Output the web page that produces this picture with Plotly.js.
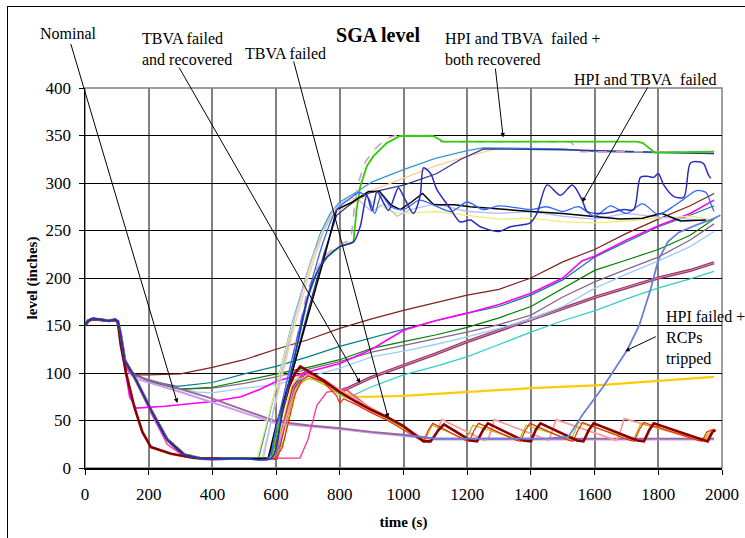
<!DOCTYPE html>
<html><head><meta charset="utf-8">
<script src="https://cdn.plot.ly/plotly-3.0.1.min.js"></script>
<style>
html,body{margin:0;padding:0;background:#fff;overflow:hidden;width:745px;height:538px;}
#chart{position:absolute;left:0;top:0;width:745px;height:538px;}
#frame{position:absolute;left:7px;top:6px;width:800px;height:600px;border:1.5px solid #000;pointer-events:none;}
</style></head><body>
<div id="chart"></div>
<div id="frame"></div>
<script>
// ---- shared segments (time s, level inches) ----
const startT = [0,10,25,50,75,95,103];
const startY = [150,155,157,156,155,156,154];
const lowT = [112,125,155,207,258,312,364,400,450,500];
const lowY = [140,113,96,61,30,14,10,9.5,10,10];
const famT = [112,122,136,160,200,300,400,500,600,700,800,900,1000,1100,1200,1300,1400,1500,1600,1700,1800,1900,1975];

// ---- rising family ----
const brownY = [136,116,104,98,98,99,106,114,125,135,147,157,166,174,182,188,200,217,230,247,262,276,289];
const tealT = [112,122,136,160,200,290,400,500,600,700,800,900,1000,1100,1200,1300,1400,1500,1600,1700,1800,1900,1975];
const tealY = [136,116,104,98,92,86,90,99,107,117,128,137,146,155,163,170,182,198,222,238,254,266,276];
const magentaT = [112,122,140,160,250,400,490,550,600,700,800,900,950,1000,1100,1200,1300,1400,1500,1560,1600,1700,1800,1900,1975];
const magentaY = [136,112,75,63,65,70,75,83,91,101,110,125,135,145,155,163,172,184,200,218,223,240,255,268,282];
const greenY = [136,116,104,98,92,83,85,92,99,106,114,126,133,140,148,158,170,189,208,219,230,245,262];
const mauveY = [136,116,104,98,91,83,84,89,96,104,112,122,129,136,143,151,161,180,196,209,222,240,257];
const lightBlueT = [112,122,136,160,250,350,400,500,600,700,800,900,1000,1100,1200,1300,1400,1500,1600,1700,1800,1900,1975];
const lightBlueY = [136,116,104,97,87,80,79,84,88,96,105,117,123,130,138,147,157,170,189,204,218,233,249];

// ---- declining pair ----
const purpleT = [112,122,140,160,300,400,500,600,700,800,900,1000,1100,1500,1975];
const purpleY = [136,112,102,97,83,73,61,49,45,42,38,35,31,31,31];
const lavenderY = [138,114,100,94,80,69,58,47,44,41,37,34,30,30,30];

// ---- TBVA failed bundle ----
const darkRedT = [112,129,155,180,207,270,343,400,500,580,600,620,640,660,676,700,750,800,850,900,952,1000,1063,1085,1110,1127,1210,1231,1250,1265,1375,1400,1415,1430,1545,1565,1582,1597,1734,1755,1772,1786,1941,1955,1970,1980];
const darkRedY = [130,100,64,38,22,15,10.5,10,10,10,30,60,85,100,107,102,92,80,70,61,53,44,28,28,40,46,29,28,40,47,29,28,40,47,29,28,40,47,29,28,40,47,29,28,38,40];
const redT = [600,620,640,660,680,700,750,790,800,812,850,900,950,1000,1050,1062,1078,1092,1195,1207,1222,1236,1355,1367,1383,1397,1520,1532,1548,1562,1712,1724,1740,1754,1925,1937,1952,1975];
const redY = [10,22,50,78,92,97,90,76,68,73,67,58,50,40,30,28,40,47,29,28,40,47,29,28,40,47,29,28,40,48,29,28,40,48,29,28,38,41];
const ygT = [600,625,650,670,700,720,760,800,850,900,1000,1050,1068,1090,1196,1218,1363,1385,1527,1549,1723,1745,1940,1965,1975];
const ygY = [10,30,70,88,94,93,86,77,70,60,42,31,30,45,30,45,30,45,30,48,30,47,29,40,40];
const salmonT = [590,620,660,700,750,800,900,1000,1080,1098,1120,1255,1268,1285,1455,1463,1479,1668,1678,1693,1945,1960,1980];
const salmonY = [10,40,82,98,93,82,63,44,27,32,51,29,32,51,29,35,51,29,35,52,28,35,40];
const hotPinkT = [112,130,160,207,258,312,364,500,675,700,728,759,802,815,830,900,1000,1062];
const hotPinkY = [140,105,92,58,25,12,10,10,10.5,30,66,80,82,84.5,80,62,43,29];
const goldT = [595,620,650,680,700,750,800,822,840,854,900,1000,1210,1400,1604,1800,1975];
const goldY = [10,45,85,100,99,91,80,82,76,75,75,76,80,84,87,92,96];
const plumT = [600,625,655,690,750,800,864,896,1000,1100,1199,1300,1400,1500,1604,1700,1800,1900,1975];
const plumY = [10,45,85,100,92,80,89.5,95,108,120,133,145,156,168,180,190,200,208,216];
const cyanT = [605,630,660,700,750,800,833,896,1000,1100,1199,1300,1400,1500,1604,1700,1796,1900,1975];
const cyanY = [10,50,85,98,90,79,75,85,98,107,117,130,143,155,166,178,189,199,207];

// ---- steep refill group ----
const steelT = [545,600,650,700,740,770,800,850,900,1000,1100,1200,1250,1500,1600,1975];
const steelY = [10,85,152,208,248,268,280,290,301,314,326,334,337,336,333,331];
const peachT = [555,600,650,700,750,780,850,900,1000,1100,1200,1290,1500,1600,1975];
const peachY = [10,70,140,200,250,268,280,292,305,318,328,336,336,333,332];
const slateT = [575,600,650,700,750,790,850,896,1003,1105,1180,1252,1500,1700,1975];
const slateY = [10,35,100,165,225,266,282,290,298,310,325,336,335,333,331];
const paleYelT = [540,600,650,700,740,775,820,870,920,960,1000,1100,1200,1300,1400,1500,1600,1700,1800,1900,1960];
const paleYelY = [10,85,150,205,245,268,281,284,278,270,268,270,266,262,263,259,258,260,263,265,262];
const paleLavT = [560,610,660,710,780,830,860,900,940,980,1020,1100,1200,1300,1400,1500,1600,1700,1800,1900,1960];
const paleLavY = [10,90,160,220,272,285,282,270,278,265,272,278,270,268,270,265,262,268,264,262,259];
const blackT = [575,600,650,700,750,790,840,890,925,960,990,1025,1060,1095,1160,1210,1315,1400,1500,1600,1680,1750,1810,1870,1950];
const blackY = [10,45,100,160,220,272,280,291,291,277,272,280,289,277,277,275,272,270,268,265,262,263,268,260,261];
const royalT = [575,600,650,700,750,790,830,860,890,910,930,960,1000,1050,1100,1150,1200,1250,1300,1400,1450,1500,1550,1600,1650,1700,1750,1800,1850,1880,1920,1950,1965,1975];
const royalY = [10,42,115,182,240,272,283,290,284,268,287,275,272,282,276,270,280,272,276,272,275,270,275,265,276,268,278,267,276,283,292,290,278,270];
const dbRiseT = [585,620,660,700,727,760,800,843];
const dbRiseY = [10,60,120,180,205,222,233,238];
const darkBlueT = [864,885,901,917,933,953,984,1000,1031,1052,1063,1085,1105,1147,1178,1210,1241,1299,1336,1398,1419,1451,1493,1530,1561,1577,1629,1692,1723,1744,1765,1786,1800,1817,1848,1880,1901,1932,1943,1958,1965];
const darkBlueY = [254,287,271,291,282,271,295,286,268,286,316,310,293,273,259,261,254,249,254,258,268,298,287,298,282,270,268,272,272,306,307,306,310,298,286,285,321,322,320,308,305];
const limeT = [852,864,885,905,947,989,1093,1125,1733,1752,1789,1975];
const limeY = [270,296,318,328,342,349.5,349.5,343.5,343.5,342,332,333];
const pinkDashT = [580,615,655,695,722,755,795,835,845,858,880,905,947,975,1085,1110,1524,1556,1975];
const pinkDashY = [10,60,122,182,207,224,235,240,272,300,322,334,347,350,350,343.5,343.5,333,333];
const cornT = [1000,1100,1450,1518,1560,1628,1702,1740,1775,1800,1830,1864,1920,1970,1995];
const cornY = [35,31,31,33,55,86,124,150,187,219,238,248,256,262,266];

function tr(x, y, color, width, dash, shape) {
  return {type:'scatter', mode:'lines', x:x, y:y, hoverinfo:'skip',
    line:{color:color, width:width, dash:dash||'solid', shape:shape||'linear', smoothing:0.8}};
}
const S = (a, b) => startT.concat(a, b || []);
const SY = (a, b) => startY.concat(a, b || []);

const traces = [
  tr(S(lowT, cyanT), SY(lowY, cyanY), '#33CCCC', 1.3),
  tr(S(lowT, goldT), SY(lowY, goldY), '#FFCC00', 2.2),
  tr(S(lowT, plumT), SY(lowY, plumY), '#993366', 3.2),
  tr(S(lowT, plumT), SY(lowY, plumY), '#D9A6C6', 0.8),
  tr(S(lightBlueT), SY(lightBlueY), '#99CCFF', 1.3),
  tr(S(famT), SY(mauveY), '#886688', 1.3),
  tr(S(famT), SY(greenY), '#008000', 1.2),
  tr(S(tealT), SY(tealY), '#008080', 1.2),
  tr(S(famT), SY(brownY), '#7F2020', 1.2),
  tr(S(magentaT), SY(magentaY), '#FF00FF', 1.6),
  tr(S(purpleT), SY(lavenderY), '#CC99EE', 2),
  tr(S(purpleT), SY(purpleY), '#996699', 1.8),
  tr(S(hotPinkT), SY(hotPinkY), '#FF3399', 1.3),
  tr(S(lowT, salmonT), SY(lowY, salmonY), '#FF9999', 1.8),
  tr(S(lowT, ygT), SY(lowY, ygY), '#99CC00', 1.2),
  tr(S(lowT, redT), SY(lowY, redY), '#FF2200', 1.2),
  tr(S(darkRedT), SY(darkRedY), '#8B0000', 2.6),
  tr(S(lowT, peachT), SY(lowY, peachY), '#FFCC99', 1.3),
  tr(S(lowT, steelT), SY(lowY, steelY), '#3399CC', 1.3),
  tr(S(lowT, slateT), SY(lowY, slateY), '#333399', 1.3),
  tr(S(lowT, paleYelT), SY(lowY, paleYelY), '#EEEE77', 1.3),
  tr(S(lowT, paleLavT), SY(lowY, paleLavY), '#BBBBF5', 1.3),
  tr(S(lowT, pinkDashT), SY(lowY, pinkDashY), '#CC99CC', 1.5, 'dash'),
  tr(S(lowT, dbRiseT.concat(limeT)), SY(lowY, dbRiseY.concat(limeY)), '#33CC00', 1.8),
  tr(S(lowT, blackT), SY(lowY, blackY), '#000000', 1.5),
  tr(S(lowT, royalT), SY(lowY, royalY), '#3366FF', 1.3, 'solid', 'spline'),
  tr(S(lowT, dbRiseT.concat(darkBlueT)), SY(lowY, dbRiseY.concat(darkBlueY)), '#2B2BBF', 1.5, 'solid', 'spline'),
  tr(cornT, cornY, '#6A7FDB', 1.8)
];

const F = '"Liberation Serif", "Times New Roman", serif';
function px2x(p){ return (p - 85) / 637; }
function py2y(p){ return (468 - p) / 380; }
function txt(t, px, py, ya) {
  return {text:t, xref:'paper', yref:'paper', x:px2x(px), y:py2y(py), xanchor:'left', yanchor:ya||'middle',
    showarrow:false, align:'left', font:{family:F, size:16, color:'#000'}};
}
function arr(tx, ty, hx, hy) {
  return {text:'', xref:'x', yref:'y', axref:'x', ayref:'y', x:tx, y:ty, ax:hx, ay:hy,
    showarrow:true, arrowhead:2, arrowsize:0.9, arrowwidth:1, arrowcolor:'#000', standoff:0, startstandoff:0};
}

const layout = {
  width:745, height:538,
  margin:{l:85, r:23, t:88, b:70, pad:0},
  paper_bgcolor:'rgba(0,0,0,0)', plot_bgcolor:'rgba(0,0,0,0)',
  showlegend:false,
  font:{family:F, color:'#000'},
  title:{text:'<b>SGA level</b>', font:{family:F, size:20, color:'#000'}, x:378/745, xanchor:'center', y:1-35/538, yanchor:'middle'},
  xaxis:{range:[0,2000], tick0:0, dtick:200, showgrid:true, gridcolor:'#808080', gridwidth:2,
    showline:true, linecolor:'#000', linewidth:1.5, ticks:'outside', ticklen:5, tickcolor:'#000', tickwidth:1,
    ticklabelstandoff:5, zeroline:false, automargin:false,
    tickfont:{family:F, size:17, color:'#000'},
    title:{text:'<b>time (s)</b>', font:{family:F, size:15, color:'#000'}, standoff:13}},
  yaxis:{range:[0,400], tick0:0, dtick:50, showgrid:true, gridcolor:'#000', gridwidth:1,
    showline:true, linecolor:'#000', linewidth:1.5, ticks:'outside', ticklen:5, tickcolor:'#000', tickwidth:1,
    ticklabelstandoff:4, zeroline:false, automargin:false,
    tickfont:{family:F, size:17, color:'#000'},
    title:{text:'<b>level (inches)</b>', font:{family:F, size:15, color:'#000'}, standoff:4}},
  shapes:[{type:'rect', xref:'paper', yref:'paper', x0:0, x1:1, y0:0, y1:1, line:{color:'#808080', width:1.5}, layer:'below'}],
  annotations:[
    txt('Nominal', 38, 33),
    txt('TBVA failed<br>and recovered', 140, 49),
    txt('TBVA failed', 243, 54),
    txt('HPI and TBVA\u00a0 failed +<br>both recovered', 443, 49),
    txt('HPI and TBVA\u00a0 failed', 572, 80),
    txt('HPI failed +<br>RCPs<br>tripped', 664, 338),
    arr(290, 68.4, -46, 448),
    arr(864, 89.5, 293, 423),
    arr(952, 52.6, 654, 429.5),
    arr(1313, 348, 1288, 422),
    arr(1561, 280, 1769, 402),
    arr(1696, 123, 1797, 139)
  ]
};
Plotly.newPlot('chart', traces, layout, {staticPlot:true, displayModeBar:false});
</script></body></html>
